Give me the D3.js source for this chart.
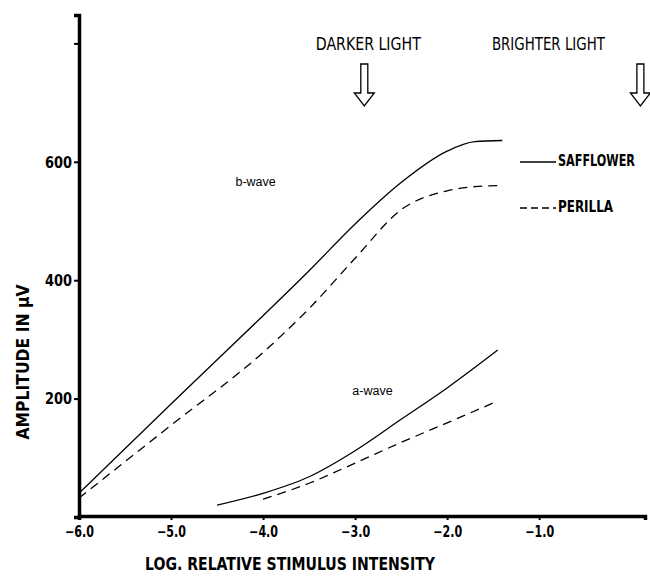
<!DOCTYPE html>
<html>
<head>
<meta charset="utf-8">
<script src="https://cdn.jsdelivr.net/npm/d3@7"></script>
<style>
	body { margin: 0; background: #fff; }
	.narrow { font-family: "Liberation Sans Narrow", "DejaVu Sans Condensed", "DejaVu Sans", sans-serif; }
</style>
</head>
<body>
<div id="chart"></div>
<script>
// stimulus intensity (log relative) for each curve
const bWaveX = [-6.0, -5.0, -4.0, -3.5, -3.0, -2.5, -2.0, -1.7, -1.4];
const safflowerB = [40, 191, 340, 416, 495, 565, 618, 634, 636];
const perillaB = [32, 155, 278, 352, 437, 519, 551, 558, 560];

const safflowerAX = [-4.5, -4.0, -3.5, -3.0, -2.5, -2.0, -1.45];
const safflowerA = [20, 40, 68, 112, 165, 218, 282];
const perillaAX = [-4.0, -3.5, -3.0, -2.5, -2.0, -1.45];
const perillaA = [30, 57, 91, 126, 159, 196];

const xTicks = [-6.0, -5.0, -4.0, -3.0, -2.0, -1.0];
const yTicks = [200, 400, 600, 800];
const yTickLabels = ['200', '400', '600', ''];

const arrowNotes = [
	{ label: 'DARKER LIGHT', x: -2.9 },
	{ label: 'BRIGHTER LIGHT', x: 0.1 }
];

class IntensityPlot {

	constructor(_config) {
		this.config = {
			parentElement: _config.parentElement,
			containerWidth: _config.containerWidth || 650,
			containerHeight: _config.containerHeight || 578,
			margin: { top: 15, right: 5, bottom: 61, left: 79 }
		}
		this.initVis();
	}

	initVis() {
		let vis = this;

		vis.width = vis.config.containerWidth - vis.config.margin.left - vis.config.margin.right;
		vis.height = vis.config.containerHeight - vis.config.margin.top - vis.config.margin.bottom;

		vis.svg = d3.select(vis.config.parentElement).append('svg')
			.attr('width', vis.config.containerWidth)
			.attr('height', vis.config.containerHeight);

		vis.chart = vis.svg.append('g')
			.attr('transform', `translate(${vis.config.margin.left}, ${vis.config.margin.top})`);

		vis.xScale = d3.scaleLinear()
			.domain([-6.0, 0.15])
			.range([0, vis.width]);

		vis.yScale = d3.scaleLinear()
			.domain([0, 848])
			.range([vis.height, 0]);

		vis.renderVis();
	}

	renderVis() {
		let vis = this;

		// curves
		const line = d3.line()
			.x(d => vis.xScale(d[0]))
			.y(d => vis.yScale(d[1]))
			.curve(d3.curveMonotoneX);

		const series = [
			{ xs: bWaveX, ys: safflowerB, dash: null },
			{ xs: bWaveX, ys: perillaB, dash: '9,6' },
			{ xs: safflowerAX, ys: safflowerA, dash: null },
			{ xs: perillaAX, ys: perillaA, dash: '9,6' }
		];

		vis.chart.selectAll('.curve')
			.data(series)
			.join('path')
			.attr('class', 'curve')
			.attr('fill', 'none')
			.attr('stroke', '#000')
			.attr('stroke-width', 1.3)
			.attr('stroke-dasharray', d => d.dash)
			.attr('d', d => line(d.xs.map((x, i) => [x, d.ys[i]])));

		// axes
		const xAxis = d3.axisBottom(vis.xScale)
			.tickValues(xTicks)
			.tickSize(4)
			.tickPadding(6)
			.tickFormat(d3.format('.1f'));

		const yAxis = d3.axisLeft(vis.yScale)
			.tickValues(yTicks)
			.tickSize(5)
			.tickPadding(2)
			.tickFormat((d, i) => yTickLabels[i]);

		const xAxisGroup = vis.chart.append('g')
			.attr('class', 'axis x-axis narrow')
			.attr('transform', `translate(0, ${vis.height - 1})`)
			.call(xAxis);

		const yAxisGroup = vis.chart.append('g')
			.attr('class', 'axis y-axis narrow')
			.call(yAxis);

		vis.svg.selectAll('.domain').attr('stroke', '#000').attr('stroke-width', 3.5);
		vis.svg.selectAll('.tick line').attr('stroke', '#000').attr('stroke-width', 2);
		vis.svg.selectAll('.tick text')
			.attr('fill', '#000')
			.style('font-size', '15px')
			.style('font-weight', 'bold');
		xAxisGroup.selectAll('.tick text')
			.attr('textLength', 29)
			.attr('lengthAdjust', 'spacingAndGlyphs');
		yAxisGroup.selectAll('.tick text')
			.attr('dy', '0.35em')
			.attr('textLength', d => d === 800 ? null : 27)
			.attr('lengthAdjust', 'spacingAndGlyphs');

		// axis titles (squeezed to match the condensed lettering)
		vis.svg.append('text')
			.attr('class', 'narrow')
			.attr('x', 290)
			.attr('y', 570)
			.attr('text-anchor', 'middle')
			.attr('textLength', 290)
			.attr('lengthAdjust', 'spacingAndGlyphs')
			.style('font-size', '18px')
			.style('font-weight', 'bold')
			.text('LOG. RELATIVE STIMULUS INTENSITY');

		vis.svg.append('text')
			.attr('class', 'narrow')
			.attr('transform', 'translate(29, 362) rotate(-90)')
			.attr('text-anchor', 'middle')
			.attr('textLength', 155)
			.attr('lengthAdjust', 'spacingAndGlyphs')
			.style('font-size', '18px')
			.style('font-weight', 'bold')
			.text('AMPLITUDE IN μV');

		// wave labels
		vis.chart.append('text')
			.attr('x', vis.xScale(-4.3))
			.attr('y', vis.yScale(559))
			.style('font-family', 'Liberation Sans, Arial, sans-serif')
			.style('font-size', '12.5px')
			.text('b-wave');

		vis.chart.append('text')
			.attr('x', vis.xScale(-3.03))
			.attr('y', vis.yScale(206))
			.style('font-family', 'Liberation Sans, Arial, sans-serif')
			.style('font-size', '12.5px')
			.text('a-wave');

		// legend
		const legend = vis.svg.append('g')
			.attr('transform', 'translate(520, 162)');

		const legendItems = [
			{ label: 'SAFFLOWER', dash: null, len: 77 },
			{ label: 'PERILLA', dash: '7,4', len: 55 }
		];

		const rows = legend.selectAll('g')
			.data(legendItems)
			.join('g')
			.attr('transform', (d, i) => `translate(0, ${i * 46})`);

		rows.append('line')
			.attr('x1', 0)
			.attr('x2', 36)
			.attr('stroke', '#000')
			.attr('stroke-width', 1.3)
			.attr('stroke-dasharray', d => d.dash);

		rows.append('text')
			.attr('class', 'narrow')
			.attr('x', 38)
			.attr('y', 4)
			.attr('textLength', d => d.len)
			.attr('lengthAdjust', 'spacingAndGlyphs')
			.style('font-size', '15px')
			.style('font-weight', 'bold')
			.text(d => d.label);

		// light intensity arrows
		const notes = vis.svg.selectAll('.note')
			.data(arrowNotes)
			.join('g')
			.attr('class', 'note')
			.attr('transform', d => `translate(${vis.config.margin.left + vis.xScale(d.x)}, 0)`);

		notes.append('text')
			.attr('class', 'narrow')
			.attr('x', (d, i) => i === 0 ? 4 : -92)
			.attr('y', 50)
			.attr('text-anchor', 'middle')
			.attr('textLength', (d, i) => i === 0 ? 105 : 113)
			.attr('lengthAdjust', 'spacingAndGlyphs')
			.style('font-size', '17px')
			.text(d => d.label);

		notes.append('path')
			.attr('fill', '#fff')
			.attr('stroke', '#000')
			.attr('stroke-width', 1.3)
			.attr('d', 'M-3.5,64 L3.5,64 L3.5,93 L10,93 L0,106 L-10,93 L-3.5,93 Z');
	}
}

new IntensityPlot({ parentElement: '#chart' });
</script>
</body>
</html>
